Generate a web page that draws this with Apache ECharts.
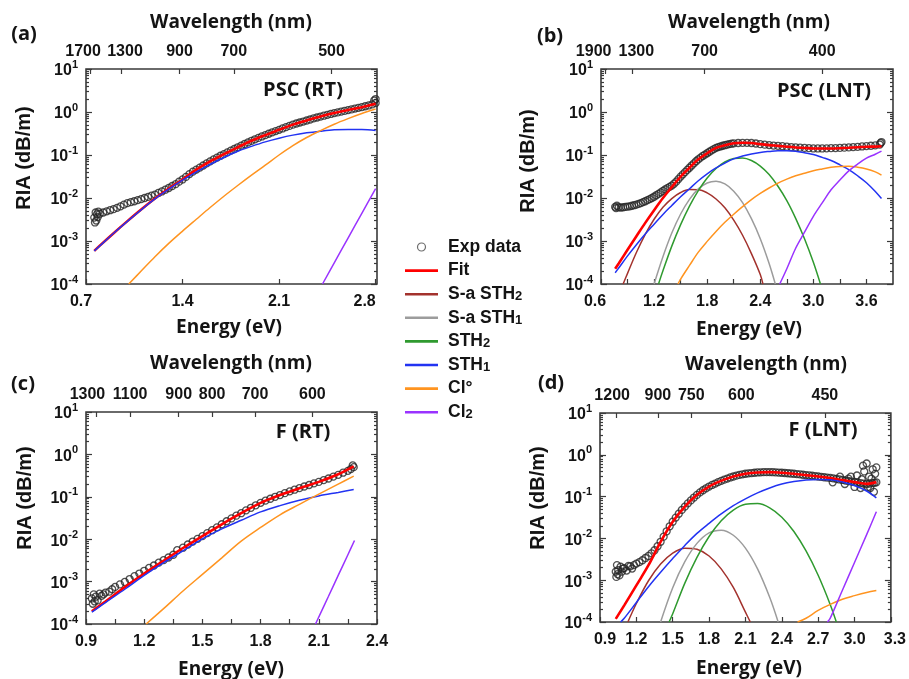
<!DOCTYPE html>
<html><head><meta charset="utf-8">
<script src="https://cdn.jsdelivr.net/npm/echarts@6/dist/echarts.min.js"></script>
<style>html,body{margin:0;padding:0;background:#fff}#c{width:909px;height:679px}</style>
</head><body><div id="c"></div>
<script>
// ---------------- tick labels ----------------
const a_xTicks = [0.7, 1.4, 2.1, 2.8];
const a_wl = [1700, 1300, 900, 700, 500];
const b_xTicks = [0.6, 1.2, 1.8, 2.4, 3.0, 3.6];
const b_wl = [1900, 1300, 700, 400];
const c_xTicks = [0.9, 1.2, 1.5, 1.8, 2.1, 2.4];
const c_wl = [1300, 1100, 900, 800, 700, 600];
const d_xTicks = [0.9, 1.2, 1.5, 1.8, 2.1, 2.4, 2.7, 3.0, 3.3];
const d_wl = [1200, 900, 750, 600, 450];

// ---------------- panel (a) PSC (RT) ----------------
const a_exp = [[0.76,3.5e-3],[0.765,2.7e-3],[0.77,4.6e-3],[0.775,3.0e-3],[0.78,4.2e-3],[0.785,3.6e-3],[0.79,4.8e-3],[0.8,4.3e-3],[0.825,4.6e-3],[0.85,4.9e-3],[0.875,5.2e-3],[0.9,5.5e-3],[0.925,5.9e-3],[0.95,6.4e-3],[0.975,7.0e-3],[1.0,7.6e-3],[1.025,8.0e-3],[1.05,8.4e-3],[1.075,8.9e-3],[1.1,9.4e-3],[1.125,0.0100],[1.15,0.0106],[1.175,0.0113],[1.2,0.012],[1.225,0.0131],[1.25,0.0142],[1.275,0.0156],[1.3,0.0171],[1.325,0.019],[1.35,0.021],[1.375,0.024],[1.4,0.027],[1.425,0.031],[1.45,0.036],[1.475,0.041],[1.5,0.0458],[1.525,0.051],[1.55,0.057],[1.575,0.064],[1.6,0.071],[1.625,0.079],[1.65,0.087],[1.675,0.096],[1.7,0.1045],[1.725,0.115],[1.75,0.126],[1.775,0.138],[1.8,0.151],[1.825,0.165],[1.85,0.18],[1.875,0.196],[1.9,0.214],[1.925,0.232],[1.95,0.25],[1.975,0.27],[2.0,0.29],[2.025,0.312],[2.05,0.335],[2.075,0.36],[2.1,0.385],[2.125,0.414],[2.15,0.445],[2.175,0.476],[2.2,0.509],[2.225,0.54],[2.25,0.57],[2.275,0.60],[2.3,0.635],[2.325,0.67],[2.35,0.71],[2.375,0.745],[2.4,0.783],[2.425,0.82],[2.45,0.86],[2.475,0.90],[2.5,0.944],[2.525,0.98],[2.55,1.02],[2.575,1.06],[2.6,1.107],[2.625,1.15],[2.65,1.2],[2.675,1.25],[2.7,1.3],[2.725,1.36],[2.75,1.42],[2.775,1.5],[2.79,1.85],[2.8,1.62],[2.8,2.0]];
const a_fit = [[0.76,5.9e-4],[0.8,7.8e-4],[0.9,1.52e-3],[1.0,2.9e-3],[1.1,5.4e-3],[1.2,9.7e-3],[1.3,0.0166],[1.4,0.027],[1.5,0.0458],[1.6,0.071],[1.7,0.1045],[1.8,0.151],[1.9,0.214],[2.0,0.29],[2.1,0.385],[2.2,0.509],[2.3,0.635],[2.4,0.783],[2.5,0.944],[2.6,1.107],[2.7,1.297],[2.8,1.556]];
const a_STH1 = [[0.76,5.9e-4],[0.8,7.7e-4],[0.9,1.51e-3],[1.0,2.86e-3],[1.1,5.3e-3],[1.2,9.5e-3],[1.3,0.016],[1.4,0.0259],[1.5,0.0405],[1.6,0.06],[1.7,0.0873],[1.8,0.122],[1.9,0.159],[2.0,0.202],[2.1,0.246],[2.2,0.29],[2.3,0.328],[2.4,0.359],[2.5,0.385],[2.6,0.392],[2.7,0.392],[2.8,0.372]];
const a_Cl0 = [[1.01,1.0e-4],[1.1,2.0e-4],[1.2,4.3e-4],[1.3,8.8e-4],[1.4,1.7e-3],[1.5,3.2e-3],[1.6,6.0e-3],[1.7,0.011],[1.8,0.0195],[1.9,0.034],[2.0,0.058],[2.1,0.1],[2.2,0.165],[2.3,0.255],[2.4,0.37],[2.5,0.52],[2.6,0.7],[2.7,0.92],[2.8,1.17]];
const a_Cl2 = [[2.415,1.0e-4],[2.5,3.1e-4],[2.6,1.17e-3],[2.7,4.4e-3],[2.8,0.0165]];

// ---------------- panel (b) PSC (LNT) ----------------
const b_exp = [[0.76,6.2e-3],[0.77,5.8e-3],[0.78,6.6e-3],[0.8,6.1e-3],[0.825,6.0e-3],[0.85,6.1e-3],[0.875,6.2e-3],[0.9,6.3e-3],[0.925,6.4e-3],[0.95,6.6e-3],[0.975,6.8e-3],[1.0,7.0e-3],[1.025,7.3e-3],[1.05,7.6e-3],[1.075,8.0e-3],[1.1,8.4e-3],[1.125,8.9e-3],[1.15,9.4e-3],[1.175,0.01],[1.2,0.0107],[1.225,0.0116],[1.25,0.0125],[1.275,0.0135],[1.3,0.0146],[1.325,0.0158],[1.35,0.017],[1.375,0.0182],[1.4,0.0195],[1.425,0.0215],[1.45,0.024],[1.475,0.0275],[1.5,0.0315],[1.525,0.0355],[1.55,0.04],[1.575,0.045],[1.6,0.0505],[1.625,0.057],[1.65,0.064],[1.675,0.0715],[1.7,0.0794],[1.725,0.087],[1.75,0.095],[1.775,0.102],[1.8,0.11],[1.825,0.119],[1.85,0.128],[1.875,0.137],[1.9,0.1466],[1.925,0.152],[1.95,0.158],[1.975,0.164],[2.0,0.169],[2.025,0.174],[2.05,0.179],[2.075,0.183],[2.1,0.187],[2.15,0.19],[2.2,0.192],[2.25,0.192],[2.3,0.19],[2.35,0.185],[2.4,0.179],[2.45,0.174],[2.5,0.17],[2.55,0.166],[2.6,0.163],[2.65,0.16],[2.7,0.156],[2.75,0.153],[2.8,0.15],[2.85,0.148],[2.9,0.146],[2.95,0.144],[3.0,0.142],[3.05,0.142],[3.1,0.142],[3.15,0.143],[3.2,0.144],[3.25,0.145],[3.3,0.146],[3.35,0.148],[3.4,0.15],[3.45,0.152],[3.5,0.155],[3.55,0.158],[3.6,0.161],[3.65,0.164],[3.7,0.168],[3.75,0.175],[3.76,0.19],[3.77,0.2]];
const b_fit = [[0.76,2.26e-4],[0.8,3.0e-4],[0.9,6.25e-4],[1.0,1.29e-3],[1.1,2.64e-3],[1.2,5.2e-3],[1.3,0.01],[1.4,0.0179],[1.5,0.0315],[1.6,0.0505],[1.7,0.0794],[1.8,0.11],[1.9,0.1466],[2.0,0.169],[2.1,0.187],[2.2,0.192],[2.3,0.19],[2.4,0.179],[2.5,0.17],[2.6,0.163],[2.7,0.156],[2.8,0.15],[2.9,0.146],[3.0,0.142],[3.1,0.142],[3.2,0.142],[3.3,0.144],[3.4,0.1475],[3.5,0.152],[3.6,0.156],[3.7,0.157],[3.77,0.16]];
const b_SaSTH2 = [[0.85,1.0e-4],[0.9,1.77e-4],[1.0,5.4e-4],[1.1,1.43e-3],[1.2,3.2e-3],[1.3,6.1e-3],[1.4,9.7e-3],[1.5,0.0134],[1.6,0.0157],[1.7,0.0156],[1.8,0.0132],[1.9,9.5e-3],[2.0,5.9e-3],[2.1,3.05e-3],[2.2,1.36e-3],[2.3,5.1e-4],[2.4,1.66e-4],[2.43,1.0e-4]];
const b_SaSTH1 = [[1.2,1.0e-4],[1.3,4.3e-4],[1.4,1.53e-3],[1.5,4.25e-3],[1.6,9.3e-3],[1.7,0.0163],[1.8,0.0224],[1.9,0.0245],[2.0,0.0212],[2.1,0.0144],[2.2,7.8e-3],[2.3,3.3e-3],[2.4,1.13e-3],[2.5,3.0e-4],[2.57,1.0e-4]];
const b_STH2 = [[1.25,1.0e-4],[1.3,2.03e-4],[1.4,7.6e-4],[1.5,2.4e-3],[1.6,6.5e-3],[1.7,0.0149],[1.8,0.0292],[1.9,0.0484],[2.0,0.0687],[2.1,0.0828],[2.2,0.085],[2.3,0.0743],[2.4,0.0552],[2.5,0.0351],[2.6,0.0188],[2.7,8.7e-3],[2.8,3.37e-3],[2.9,1.13e-3],[3.0,3.2e-4],[3.08,1.0e-4]];
const b_STH1 = [[0.76,1.82e-4],[0.8,2.35e-4],[0.9,4.5e-4],[1.0,8.2e-4],[1.1,1.45e-3],[1.2,2.46e-3],[1.3,4.15e-3],[1.4,6.7e-3],[1.5,0.0107],[1.6,0.0164],[1.7,0.0252],[1.8,0.0366],[1.9,0.0499],[2.0,0.065],[2.1,0.0814],[2.2,0.0945],[2.3,0.106],[2.4,0.115],[2.5,0.121],[2.6,0.126],[2.7,0.126],[2.8,0.123],[2.9,0.113],[3.0,0.103],[3.1,0.088],[3.2,0.0747],[3.3,0.059],[3.4,0.0457],[3.5,0.0329],[3.6,0.0227],[3.7,0.0142],[3.77,9.7e-3]];
const b_Cl0 = [[1.47,1.0e-4],[1.5,1.3e-4],[1.6,2.7e-4],[1.7,5.5e-4],[1.8,9.8e-4],[1.9,1.67e-3],[2.0,2.72e-3],[2.1,4.2e-3],[2.2,6.3e-3],[2.3,9.2e-3],[2.4,0.0128],[2.5,0.0171],[2.6,0.0222],[2.7,0.0275],[2.8,0.0329],[2.9,0.0377],[3.0,0.043],[3.1,0.0475],[3.2,0.052],[3.3,0.0543],[3.4,0.0545],[3.5,0.052],[3.6,0.0475],[3.7,0.0405],[3.77,0.034]];
const b_Cl2 = [[2.62,1.0e-4],[2.7,2.26e-4],[2.8,6.8e-4],[2.9,1.6e-3],[3.0,3.75e-3],[3.1,7.7e-3],[3.2,0.0155],[3.3,0.0262],[3.4,0.0428],[3.5,0.0615],[3.6,0.0845],[3.7,0.104],[3.77,0.123]];

// ---------------- panel (c) F (RT) ----------------
const c_exp = [[0.93,4.0e-4],[0.935,3.0e-4],[0.94,5.0e-4],[0.945,3.4e-4],[0.95,4.4e-4],[0.96,3.6e-4],[0.97,5.2e-4],[0.98,4.6e-4],[0.99,5.0e-4],[1.0,5.5e-4],[1.02,5.8e-4],[1.035,6.6e-4],[1.05,7.5e-4],[1.075,8.6e-4],[1.1,9.8e-4],[1.125,1.15e-3],[1.15,1.35e-3],[1.175,1.55e-3],[1.2,1.8e-3],[1.225,2.1e-3],[1.25,2.4e-3],[1.275,2.8e-3],[1.3,3.2e-3],[1.325,3.7e-3],[1.35,4.3e-3],[1.37,5.5e-3],[1.4,6.3e-3],[1.425,7.5e-3],[1.45,8.8e-3],[1.475,0.0102],[1.5,0.0118],[1.525,0.0139],[1.55,0.0163],[1.575,0.019],[1.6,0.0225],[1.625,0.0265],[1.65,0.031],[1.675,0.036],[1.7,0.041],[1.725,0.048],[1.75,0.055],[1.775,0.063],[1.8,0.072],[1.825,0.081],[1.85,0.09],[1.875,0.1],[1.9,0.11],[1.925,0.122],[1.95,0.134],[1.975,0.147],[2.0,0.16],[2.025,0.175],[2.05,0.19],[2.075,0.207],[2.1,0.225],[2.125,0.247],[2.15,0.27],[2.175,0.3],[2.2,0.33],[2.225,0.37],[2.25,0.41],[2.265,0.45],[2.28,0.5],[2.275,0.55]];
const c_fit = [[0.93,2.0e-4],[1.0,3.4e-4],[1.1,7.4e-4],[1.2,1.55e-3],[1.3,3.1e-3],[1.4,6.2e-3],[1.5,0.0118],[1.6,0.0225],[1.7,0.041],[1.8,0.072],[1.9,0.11],[2.0,0.16],[2.1,0.225],[2.2,0.34],[2.28,0.52]];
const c_STH1 = [[0.93,1.9e-4],[1.0,3.2e-4],[1.1,6.6e-4],[1.2,1.4e-3],[1.3,2.8e-3],[1.4,5.3e-3],[1.5,0.0102],[1.6,0.0175],[1.7,0.028],[1.8,0.044],[1.9,0.062],[2.0,0.083],[2.1,0.105],[2.2,0.127],[2.28,0.148]];
const c_Cl0 = [[1.21,1.0e-4],[1.3,2.3e-4],[1.4,6.0e-4],[1.5,1.48e-3],[1.6,3.64e-3],[1.7,9.0e-3],[1.8,0.0189],[1.9,0.0376],[2.0,0.0664],[2.1,0.116],[2.2,0.199],[2.28,0.307]];
const c_Cl2 = [[2.083,1.0e-4],[2.15,4.5e-4],[2.2,1.4e-3],[2.25,4.3e-3],[2.284,9.3e-3]];

// ---------------- panel (d) F (LNT) ----------------
const d_exp = [[1.03,1.6e-3],[1.035,1.2e-3],[1.04,2.3e-3],[1.045,1.4e-3],[1.05,1.75e-3],[1.06,1.3e-3],[1.07,2.1e-3],[1.08,1.6e-3],[1.09,1.9e-3],[1.1,1.95e-3],[1.12,1.7e-3],[1.135,2.2e-3],[1.15,2.15e-3],[1.165,1.9e-3],[1.18,2.3e-3],[1.2,2.5e-3],[1.225,2.7e-3],[1.25,3.0e-3],[1.275,3.4e-3],[1.3,3.8e-3],[1.325,4.4e-3],[1.35,5.2e-3],[1.375,6.5e-3],[1.4,8.3e-3],[1.425,0.011],[1.45,0.0148],[1.475,0.0195],[1.5,0.0251],[1.525,0.0315],[1.55,0.039],[1.575,0.048],[1.6,0.0575],[1.625,0.069],[1.65,0.081],[1.675,0.095],[1.7,0.11],[1.725,0.126],[1.75,0.142],[1.775,0.158],[1.8,0.174],[1.825,0.19],[1.85,0.205],[1.875,0.222],[1.9,0.238],[1.925,0.254],[1.95,0.27],[1.975,0.287],[2.0,0.303],[2.025,0.317],[2.05,0.33],[2.075,0.342],[2.1,0.352],[2.125,0.36],[2.15,0.366],[2.175,0.372],[2.2,0.378],[2.225,0.381],[2.25,0.384],[2.275,0.385],[2.3,0.386],[2.325,0.383],[2.35,0.38],[2.375,0.376],[2.4,0.372],[2.425,0.367],[2.45,0.362],[2.475,0.357],[2.5,0.352],[2.525,0.346],[2.55,0.34],[2.575,0.333],[2.6,0.327],[2.625,0.321],[2.65,0.315],[2.675,0.309],[2.7,0.303],[2.725,0.296],[2.75,0.29],[2.775,0.284],[2.8,0.28],[2.825,0.272],[2.85,0.265],[2.875,0.257],[2.9,0.25],[2.925,0.243],[2.95,0.236],[2.975,0.229],[3.0,0.222],[3.025,0.216],[3.05,0.21],[3.075,0.205],[3.1,0.2],[3.125,0.205],[3.15,0.21],[3.165,0.215],[3.18,0.22],[2.82,0.22],[2.88,0.3],[2.92,0.2],[2.97,0.3],[3.0,0.17],[3.02,0.32],[3.05,0.16],[3.07,0.55],[3.08,0.4],[3.1,0.62],[3.12,0.3],[3.13,0.16],[3.15,0.45],[3.16,0.13],[3.17,0.35],[3.18,0.5],[3.06,0.26],[3.14,0.27],[2.95,0.27],[3.11,0.17]];
const d_fit = [[1.03,1.19e-4],[1.1,2.5e-4],[1.2,7.5e-4],[1.3,2.28e-3],[1.4,8.3e-3],[1.5,0.0251],[1.6,0.0575],[1.7,0.11],[1.8,0.174],[1.9,0.238],[2.0,0.303],[2.1,0.352],[2.2,0.378],[2.3,0.386],[2.4,0.372],[2.5,0.352],[2.6,0.327],[2.7,0.303],[2.8,0.277],[2.9,0.248],[3.0,0.222],[3.1,0.202],[3.18,0.222]];
const d_SaSTH2 = [[1.13,1.0e-4],[1.2,2.77e-4],[1.3,9.7e-4],[1.4,2.44e-3],[1.5,4.45e-3],[1.6,5.85e-3],[1.7,5.5e-3],[1.8,3.8e-3],[1.9,1.87e-3],[2.0,6.7e-4],[2.1,1.72e-4],[2.14,1.0e-4]];
const d_SaSTH1 = [[1.4,1.0e-4],[1.5,6.6e-4],[1.6,2.77e-3],[1.7,7.6e-3],[1.8,0.0136],[1.9,0.0157],[2.0,0.0119],[2.1,5.85e-3],[2.2,1.86e-3],[2.3,3.9e-4],[2.37,1.0e-4]];
const d_STH2 = [[1.47,1.0e-4],[1.5,1.57e-4],[1.6,8.5e-4],[1.7,3.5e-3],[1.8,0.0111],[1.9,0.0265],[2.0,0.0477],[2.1,0.0653],[2.2,0.068],[2.3,0.0538],[2.4,0.0321],[2.5,0.0146],[2.6,5.0e-3],[2.7,1.31e-3],[2.8,2.6e-4],[2.85,1.0e-4]];
const d_STH1 = [[1.07,1.0e-4],[1.1,1.23e-4],[1.2,2.94e-4],[1.3,7.0e-4],[1.4,1.55e-3],[1.5,3.3e-3],[1.6,6.8e-3],[1.7,0.0132],[1.8,0.0229],[1.9,0.0384],[2.0,0.0608],[2.1,0.0885],[2.2,0.123],[2.3,0.161],[2.4,0.2],[2.5,0.229],[2.6,0.25],[2.7,0.258],[2.8,0.254],[2.9,0.224],[3.0,0.184],[3.1,0.136],[3.18,0.093]];
const d_Cl0 = [[2.53,1.0e-4],[2.6,1.23e-4],[2.7,1.89e-4],[2.8,2.64e-4],[2.9,3.5e-4],[3.0,4.27e-4],[3.1,5.1e-4],[3.18,5.7e-4]];
const d_Cl2 = [[2.776,1.0e-4],[2.8,1.24e-4],[2.9,5.75e-4],[3.0,2.66e-3],[3.1,0.0123],[3.18,0.0435]];

// ---------------- styling ----------------
const FONT = '"Liberation Sans", Arial, sans-serif';
const TFONT = '"Open Sans", "Liberation Sans", sans-serif';
const INK = '#141414';
const COLORS = {
  'Fit': '#ff0000', 'S-a STH2': '#a3322d', 'S-a STH1': '#9c9c9c', 'STH2': '#2f9a2f',
  'STH1': '#2233f2', 'Cl°': '#ff9420', 'Cl2': '#9a33ff'
};

const panels = [
  { grid: {left: 86, top: 69, width: 291, height: 215}, xr: [0.7, 2.81], xt: a_xTicks, xs: {'0.7': -5, '2.8': -11}, xminor: [],
    wl: a_wl, ws: {1700: -7, 1300: 4},
    exp: a_exp, curves: [['Fit', a_fit], ['STH1', a_STH1], ['Cl°', a_Cl0], ['Cl2', a_Cl2]] },
  { grid: {left: 601, top: 69, width: 292, height: 215}, xr: [0.6, 3.9], xt: b_xTicks, xs: {'0.6': -6}, xminor: [0.9, 1.5, 2.1, 2.7, 3.3],
    wl: b_wl, ws: {1900: -12, 1300: 4},
    exp: b_exp, curves: [['Fit', b_fit], ['S-a STH2', b_SaSTH2], ['S-a STH1', b_SaSTH1], ['STH2', b_STH2], ['STH1', b_STH1], ['Cl°', b_Cl0], ['Cl2', b_Cl2]] },
  { grid: {left: 86, top: 412, width: 291, height: 212}, xr: [0.9, 2.4], xt: c_xTicks, xs: {}, xminor: [1.05, 1.35, 1.65, 1.95, 2.25],
    wl: c_wl, ws: {1300: -9},
    exp: c_exp, curves: [['Fit', c_fit], ['STH1', c_STH1], ['Cl°', c_Cl0], ['Cl2', c_Cl2]] },
  { grid: {left: 600, top: 413, width: 293, height: 209}, xr: [0.9, 3.3], xt: d_xTicks, xs: {'0.9': 5, '3.3': 4}, xminor: [],
    wl: d_wl, ws: {1200: -4},
    exp: d_exp, curves: [['Fit', d_fit], ['S-a STH2', d_SaSTH2], ['S-a STH1', d_SaSTH1], ['STH2', d_STH2], ['STH1', d_STH1], ['Cl°', d_Cl0], ['Cl2', d_Cl2]] }
];

// minor ticks of the log axis (2..9 per decade)
const yMinor = [];
for (let e = -4; e < 1; e++) for (let k = 2; k <= 9; k++) yMinor.push(k * Math.pow(10, e));

function shiftRich(shifts) {
  const base = {fontFamily: FONT, fontWeight: 'bold', fontSize: 16, color: INK};
  const rich = {d: Object.assign({}, base)};
  Object.keys(shifts).forEach(k => {
    const s = shifts[k];
    rich[(s < 0 ? 'm' : 'p') + Math.abs(s)] = Object.assign({}, base, {padding: s < 0 ? [0, -2 * s, 0, 0] : [0, 0, 0, 2 * s]});
  });
  return rich;
}
function shiftLabel(text, s) {
  if (!s) return '{d|' + text + '}';
  return '{' + (s < 0 ? 'm' : 'p') + Math.abs(s) + '|' + text + '}';
}

const grids = [], xAxes = [], yAxes = [], series = [];
const tickStyle = {color: '#3a3a3a', width: 1.2};
panels.forEach((p, i) => {
  grids.push(Object.assign({show: true, borderColor: '#3a3a3a', borderWidth: 1.6, backgroundColor: 'transparent'}, p.grid));
  xAxes.push({
    gridIndex: i, type: 'value', position: 'bottom', min: p.xr[0], max: p.xr[1],
    axisLine: {show: false}, splitLine: {show: false},
    axisTick: {show: true, inside: true, length: 5, lineStyle: tickStyle, customValues: p.xt.concat(p.xminor)},
    axisLabel: {margin: 10, customValues: p.xt, rich: shiftRich(p.xs),
      formatter: v => { const t = v.toFixed(1); return shiftLabel(t, p.xs[t]); }}
  });
  const wlE = p.wl.map(l => 1240 / l);
  xAxes.push({
    gridIndex: i, type: 'value', position: 'top', min: p.xr[0], max: p.xr[1],
    axisLine: {show: false}, splitLine: {show: false},
    axisTick: {show: true, inside: true, length: 5, lineStyle: tickStyle, customValues: wlE},
    axisLabel: {margin: 9, customValues: wlE, rich: shiftRich(p.ws),
      formatter: v => { const l = Math.round(1240 / v); return shiftLabel(String(l), p.ws[l]); }}
  });
  const yBase = {gridIndex: i, type: 'log', logBase: 10, min: 1e-4, max: 10, axisLine: {show: false}, splitLine: {show: false}};
  yAxes.push(Object.assign({}, yBase, {
    position: 'left',
    axisTick: {show: true, inside: true, length: 6, lineStyle: tickStyle},
    axisLabel: {margin: 8,
      formatter: v => '{b|10}{e|' + Math.round(Math.log10(v)) + '}',
      rich: {b: {fontFamily: FONT, fontWeight: 'bold', fontSize: 16, color: INK, lineHeight: 20, verticalAlign: 'bottom'},
             e: {fontFamily: FONT, fontWeight: 'bold', fontSize: 11, color: INK, lineHeight: 12, verticalAlign: 'top'}}}
  }));
  yAxes.push(Object.assign({}, yBase, {position: 'right', axisTick: {show: true, inside: true, length: 6, lineStyle: tickStyle}, axisLabel: {show: false}}));
  yAxes.push(Object.assign({}, yBase, {position: 'left', axisTick: {show: true, inside: true, length: 3, lineStyle: tickStyle, customValues: yMinor}, axisLabel: {show: false}}));
  yAxes.push(Object.assign({}, yBase, {position: 'right', axisTick: {show: true, inside: true, length: 3, lineStyle: tickStyle, customValues: yMinor}, axisLabel: {show: false}}));

  series.push({
    name: 'Exp data', type: 'scatter', xAxisIndex: 2 * i, yAxisIndex: 4 * i, data: p.exp,
    symbol: 'circle', symbolSize: 7,
    itemStyle: {color: 'rgba(255,255,255,0)', borderColor: '#262626', borderWidth: 1.3}
  });
  p.curves.forEach(([name, data]) => {
    series.push({
      name: name, type: 'line', xAxisIndex: 2 * i, yAxisIndex: 4 * i, data: data,
      symbol: 'none', showSymbol: false, smooth: 0.35,
      lineStyle: {color: COLORS[name], width: name === 'Fit' ? 2.6 : 1.5},
      itemStyle: {color: COLORS[name]}, z: name === 'Fit' ? 3 : 4
    });
  });
});

function txt(x, y, text, font, rot) {
  return {type: 'text', x: x, y: y, rotation: rot || 0,
    style: {text: text, font: font, fill: INK, textAlign: 'center', textVerticalAlign: 'middle', align: 'center', verticalAlign: 'middle'}};
}
const graphics = [
  txt(24, 34, '(a)', 'bold 20px ' + TFONT), txt(550, 36, '(b)', 'bold 20px ' + TFONT),
  txt(23, 384, '(c)', 'bold 20px ' + TFONT), txt(551, 383, '(d)', 'bold 20px ' + TFONT),
  txt(231, 23, 'Wavelength (nm)', 'bold 19px ' + TFONT), txt(749, 23, 'Wavelength (nm)', 'bold 19px ' + TFONT),
  txt(231, 364, 'Wavelength (nm)', 'bold 19px ' + TFONT), txt(766, 365, 'Wavelength (nm)', 'bold 19px ' + TFONT),
  txt(229, 328, 'Energy (eV)', 'bold 19px ' + TFONT), txt(749, 330, 'Energy (eV)', 'bold 19px ' + TFONT),
  txt(231, 670, 'Energy (eV)', 'bold 19px ' + TFONT), txt(749, 669, 'Energy (eV)', 'bold 19px ' + TFONT),
  txt(24, 158, 'RIA (dB/m)', 'bold 20px ' + FONT, Math.PI / 2), txt(528, 161, 'RIA (dB/m)', 'bold 20px ' + FONT, Math.PI / 2),
  txt(25, 498, 'RIA (dB/m)', 'bold 20px ' + FONT, Math.PI / 2), txt(538, 498, 'RIA (dB/m)', 'bold 20px ' + FONT, Math.PI / 2),
  txt(303, 90, 'PSC (RT)', 'bold 20px ' + TFONT), txt(824, 91, 'PSC (LNT)', 'bold 20px ' + TFONT),
  txt(303, 432, 'F (RT)', 'bold 20px ' + TFONT), txt(823, 430, 'F (LNT)', 'bold 20px ' + TFONT)
];

const LINE_ICON = 'path://M0,0h33v2.6h-33z';
const legendNames = ['Fit', 'S-a STH2', 'S-a STH1', 'STH2', 'STH1', 'Cl°', 'Cl2'];
const option = {
  animation: false,
  backgroundColor: '#ffffff',
  grid: grids, xAxis: xAxes, yAxis: yAxes, series: series, graphic: graphics,
  textStyle: {fontFamily: FONT},
  legend: {
    orient: 'vertical', left: 400, top: 233, itemWidth: 33, itemHeight: 8, itemGap: 5.6,
    selectedMode: false,
    data: [{name: 'Exp data', icon: 'circle', itemStyle: {color: '#ffffff', borderColor: '#4a4a4a', borderWidth: 1.2}}]
      .concat(legendNames.map(n => ({name: n, icon: LINE_ICON, itemStyle: {color: COLORS[n], borderWidth: 0}}))),
    formatter: name => { const m = name.match(/^(.*?)([12])$/); return m ? '{n|' + m[1] + '}{s|' + m[2] + '}' : '{n|' + name + '}'; },
    textStyle: {padding: [0, 0, 0, 5], rich: {
      n: {fontFamily: FONT, fontWeight: 'bold', fontSize: 17.5, color: INK, lineHeight: 18},
      s: {fontFamily: FONT, fontWeight: 'bold', fontSize: 13, color: INK, lineHeight: 13, verticalAlign: 'bottom'}
    }}
  }
};
const chart = echarts.init(document.getElementById('c'), null, {renderer: 'canvas'});
chart.setOption(option);
</script></body></html>
